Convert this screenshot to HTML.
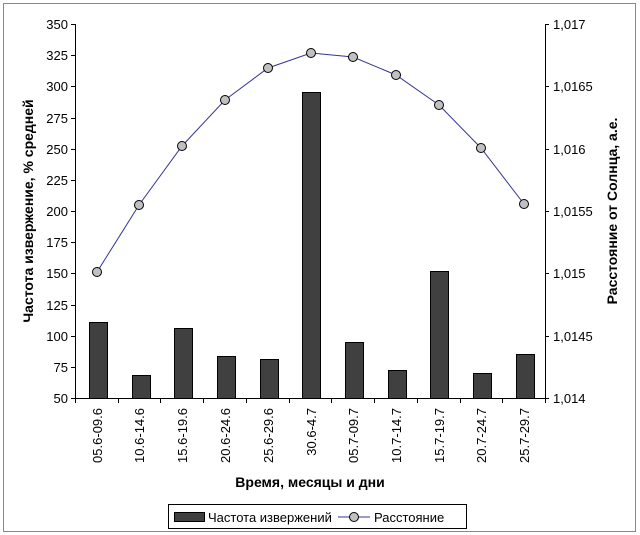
<!DOCTYPE html>
<html><head><meta charset="utf-8"><style>
body{margin:0;background:#fff;}
svg{display:block;font-family:"Liberation Sans",sans-serif;}
</style></head><body>
<svg width="640" height="535" viewBox="0 0 640 535" xmlns="http://www.w3.org/2000/svg">
<rect x="3.5" y="3.5" width="632" height="528" fill="#fff" stroke="#888"/>
<g stroke="#000" stroke-width="1" fill="none">
<line x1="75.5" y1="24" x2="75.5" y2="398"/>
<line x1="545.5" y1="24" x2="545.5" y2="398"/>
<line x1="75" y1="398.5" x2="545" y2="398.5"/>
</g>
<g stroke="#000">
<line x1="71" y1="24.5" x2="75" y2="24.5"/><line x1="71" y1="55.5" x2="75" y2="55.5"/><line x1="71" y1="86.5" x2="75" y2="86.5"/><line x1="71" y1="118.5" x2="75" y2="118.5"/><line x1="71" y1="149.5" x2="75" y2="149.5"/><line x1="71" y1="180.5" x2="75" y2="180.5"/><line x1="71" y1="211.5" x2="75" y2="211.5"/><line x1="71" y1="242.5" x2="75" y2="242.5"/><line x1="71" y1="273.5" x2="75" y2="273.5"/><line x1="71" y1="305.5" x2="75" y2="305.5"/><line x1="71" y1="336.5" x2="75" y2="336.5"/><line x1="71" y1="367.5" x2="75" y2="367.5"/><line x1="71" y1="398.5" x2="75" y2="398.5"/>
<line x1="545" y1="24.5" x2="549" y2="24.5"/><line x1="545" y1="86.5" x2="549" y2="86.5"/><line x1="545" y1="149.5" x2="549" y2="149.5"/><line x1="545" y1="211.5" x2="549" y2="211.5"/><line x1="545" y1="273.5" x2="549" y2="273.5"/><line x1="545" y1="336.5" x2="549" y2="336.5"/><line x1="545" y1="398.5" x2="549" y2="398.5"/>
<line x1="75.5" y1="398" x2="75.5" y2="403"/><line x1="118.5" y1="398" x2="118.5" y2="403"/><line x1="160.5" y1="398" x2="160.5" y2="403"/><line x1="203.5" y1="398" x2="203.5" y2="403"/><line x1="246.5" y1="398" x2="246.5" y2="403"/><line x1="289.5" y1="398" x2="289.5" y2="403"/><line x1="331.5" y1="398" x2="331.5" y2="403"/><line x1="374.5" y1="398" x2="374.5" y2="403"/><line x1="417.5" y1="398" x2="417.5" y2="403"/><line x1="460.5" y1="398" x2="460.5" y2="403"/><line x1="502.5" y1="398" x2="502.5" y2="403"/><line x1="545.5" y1="398" x2="545.5" y2="403"/>
</g>
<g font-size="13" text-anchor="end" fill="#000">
<text x="68" y="29">350</text><text x="68" y="60">325</text><text x="68" y="91">300</text><text x="68" y="123">275</text><text x="68" y="154">250</text><text x="68" y="185">225</text><text x="68" y="216">200</text><text x="68" y="247">175</text><text x="68" y="278">150</text><text x="68" y="310">125</text><text x="68" y="341">100</text><text x="68" y="372">75</text><text x="68" y="403">50</text>
</g>
<g font-size="13" fill="#000">
<text x="553" y="29">1,017</text><text x="553" y="91">1,0165</text><text x="553" y="154">1,016</text><text x="553" y="216">1,0155</text><text x="553" y="278">1,015</text><text x="553" y="341">1,0145</text><text x="553" y="403">1,014</text>
</g>
<g fill="#404040" stroke="#000" stroke-width="1">
<rect x="89.5" y="322.5" width="18" height="76"/>
<rect x="132.5" y="375.5" width="18" height="23"/>
<rect x="174.5" y="328.5" width="18" height="70"/>
<rect x="217.5" y="356.5" width="18" height="42"/>
<rect x="260.5" y="359.5" width="18" height="39"/>
<rect x="302.5" y="92.5" width="18" height="306"/>
<rect x="345.5" y="342.5" width="18" height="56"/>
<rect x="388.5" y="370.5" width="18" height="28"/>
<rect x="430.5" y="271.5" width="18" height="127"/>
<rect x="473.5" y="373.5" width="18" height="25"/>
<rect x="516.5" y="354.5" width="18" height="44"/>
</g>
<polyline fill="none" stroke="#333399" stroke-width="1" points="97,272 139,205 182,146 225,100 268,68 311,53 353,57 396,75 439,105 481,148 524,204"/>
<g fill="#c0c0c0" stroke="#000" stroke-width="1">
<circle cx="97" cy="272" r="4.5"/><circle cx="139" cy="205" r="4.5"/><circle cx="182" cy="146" r="4.5"/><circle cx="225" cy="100" r="4.5"/><circle cx="268" cy="68" r="4.5"/><circle cx="311" cy="53" r="4.5"/><circle cx="353" cy="57" r="4.5"/><circle cx="396" cy="75" r="4.5"/><circle cx="439" cy="105" r="4.5"/><circle cx="481" cy="148" r="4.5"/><circle cx="524" cy="204" r="4.5"/>
</g>
<g font-size="13" fill="#000" text-anchor="end">
<text transform="translate(102,408) rotate(-90)">05.6-09.6</text>
<text transform="translate(144,408) rotate(-90)">10.6-14.6</text>
<text transform="translate(187,408) rotate(-90)">15.6-19.6</text>
<text transform="translate(230,408) rotate(-90)">20.6-24.6</text>
<text transform="translate(273,408) rotate(-90)">25.6-29.6</text>
<text transform="translate(316,408) rotate(-90)">30.6-4.7</text>
<text transform="translate(358,408) rotate(-90)">05.7-09.7</text>
<text transform="translate(401,408) rotate(-90)">10.7-14.7</text>
<text transform="translate(444,408) rotate(-90)">15.7-19.7</text>
<text transform="translate(486,408) rotate(-90)">20.7-24.7</text>
<text transform="translate(529,408) rotate(-90)">25.7-29.7</text>
</g>
<text x="310" y="487" font-size="14" font-weight="bold" text-anchor="middle">Время, месяцы и дни</text>
<text transform="translate(33,211) rotate(-90)" font-size="14" font-weight="bold" text-anchor="middle">Частота извержение, % средней</text>
<text transform="translate(617,211) rotate(-90)" font-size="14" font-weight="bold" text-anchor="middle">Расстояние от Солнца, а.е.</text>
<rect x="168.5" y="504.5" width="298" height="24" fill="#fff" stroke="#000"/>
<rect x="174.5" y="512.5" width="30" height="9" fill="#404040" stroke="#000"/>
<text x="208" y="522" font-size="13">Частота извержений</text>
<line x1="338" y1="517" x2="370" y2="517" stroke="#333399"/>
<circle cx="354" cy="517" r="4.5" fill="#c0c0c0" stroke="#000"/>
<text x="374" y="522" font-size="13">Расстояние</text>
</svg>
</body></html>
